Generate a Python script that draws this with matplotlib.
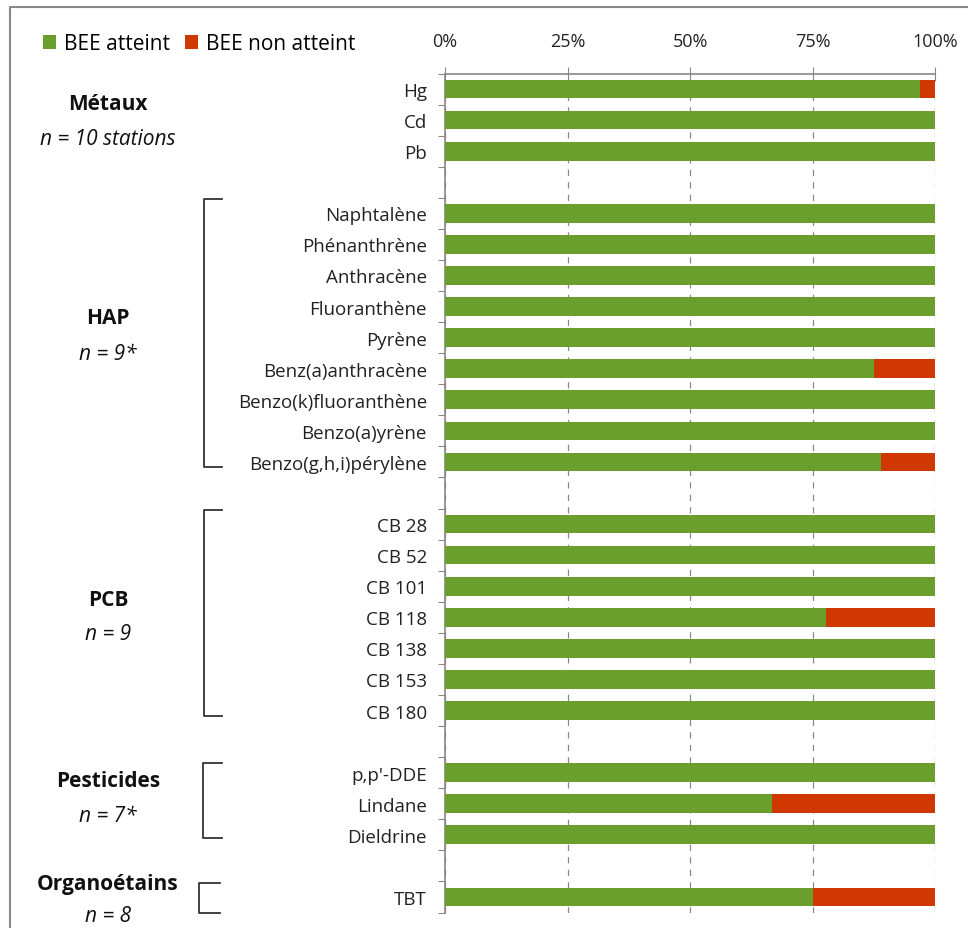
import numpy as np
import matplotlib.pyplot as plt
from matplotlib.lines import Line2D
from matplotlib.ticker import FixedLocator, PercentFormatter
from matplotlib.transforms import blended_transform_factory

plt.rcParams['font.family'] = ['Open Sans', 'DejaVu Sans']

# data
groups = ["Métaux", "HAP", "PCB", "Pesticides", "Organoétains"]
group_n = ["n = 10 stations", "n = 9*", "n = 9", "n = 7*", "n = 8"]
params = [
    ["Hg", "Cd", "Pb"],
    ["Naphtalène", "Phénanthrène", "Anthracène", "Fluoranthène", "Pyrène",
     "Benz(a)anthracène", "Benzo(k)fluoranthène", "Benzo(a)yrène", "Benzo(g,h,i)pérylène"],
    ["CB 28", "CB 52", "CB 101", "CB 118", "CB 138", "CB 153", "CB 180"],
    ["p,p'-DDE", "Lindane", "Dieldrine"],
    ["TBT"],
]
atteint = [
    [97.0, 100, 100],
    [100, 100, 100, 100, 100, 87.5, 100, 100, 88.9],
    [100, 100, 100, 77.8, 100, 100, 100],
    [100, 66.7, 100],
    [75.0],
]
green = '#6a9f2e'
red = '#cf3800'

# positions (one empty slot between groups)
pos, labels, ok = [], [], []
group_pos = []
k = 0
for names, vals in zip(params, atteint):
    start = k
    for nm, v in zip(names, vals):
        pos.append(k); labels.append(nm); ok.append(v)
        k += 1
    group_pos.append((start, k - 1))
    k += 1
nslots = k - 1
pos = np.array(pos); ok = np.array(ok)

W, H = 968, 929
fig = plt.figure(figsize=(W / 100, H / 100), dpi=100)
ax = fig.add_axes([445 / W, 1 - 913.5 / H, 490 / W, 839 / H])

ax.barh(pos, ok, height=0.6, color=green, label='BEE atteint', zorder=3)
ax.barh(pos, 100 - ok, left=ok, height=0.6, color=red, label='BEE non atteint', zorder=3)

ax.set_xlim(0, 100)
ax.set_ylim(nslots - 0.5, -0.5)
ax.xaxis.tick_top()
ax.set_xticks([0, 25, 50, 75, 100])
ax.xaxis.set_major_formatter(PercentFormatter(decimals=0))
ax.tick_params(axis='x', direction='inout', length=10, color='#888888',
               labelsize=13, pad=12, labelcolor='#222222')
ax.grid(axis='x', linestyle=(0, (5, 5)), color='#888888', linewidth=0.9, zorder=0)

ax.yaxis.set_major_locator(FixedLocator(np.arange(-0.5, nslots, 1)))
ax.yaxis.set_major_formatter(plt.NullFormatter())
ax.yaxis.set_minor_locator(FixedLocator(pos))
ax.set_yticklabels(labels, minor=True)
ax.tick_params(axis='y', which='major', direction='out', length=5, color='#888888')
ax.tick_params(axis='y', which='minor', length=0, pad=13, labelsize=13.5,
               labelcolor='#222222')

for s in ['right', 'bottom']:
    ax.spines[s].set_visible(False)
for s in ['left', 'top']:
    ax.spines[s].set_color('#888888')
    ax.spines[s].set_linewidth(1.2)

# legend
fig.legend(loc='upper left', bbox_to_anchor=(35 / W, 1 - 26 / H), ncol=2, frameon=False,
           fontsize=15, handlelength=0.6, handleheight=0.6, handletextpad=0.38,
           columnspacing=0.75, borderaxespad=0)

# group labels
lab_y = [(104, 140), (319, 354), (600, 634), (782, 817), (885, 917)]
for g, (y1, y2) in enumerate(lab_y):
    fig.text(108 / W, 1 - y1 / H, groups[g], ha='center', va='center',
             fontsize=15, fontweight='bold', color='#111111')
    fig.text(108 / W, 1 - y2 / H, group_n[g], ha='center', va='center',
             fontsize=15, style='italic', color='#111111')

# brackets (x in figure pixels, y in data)
tr = blended_transform_factory(fig.transFigure, ax.transData)
brackets = [(1, 0.45, 0.17, 204, 222), (2, 0.45, 0.17, 204, 222),
            (3, 0.3, 0.1, 203, 222), (4, 0.45, 0.5, 199, 220)]
for g, up, dn, x0, x1 in brackets:
    a, b = group_pos[g]
    ys = [a - up, a - up, b + dn, b + dn]
    xs = [x1 / W, x0 / W, x0 / W, x1 / W]
    fig.add_artist(Line2D(xs, ys, transform=tr, color='#333333', linewidth=1.3))

# frame of the original figure
fig.add_artist(Line2D([10 / W, 10 / W, 1], [0, 1 - 8 / H, 1 - 8 / H],
                      transform=fig.transFigure, color='#888888', linewidth=1.5))

fig.savefig('out.png', dpi=100)
